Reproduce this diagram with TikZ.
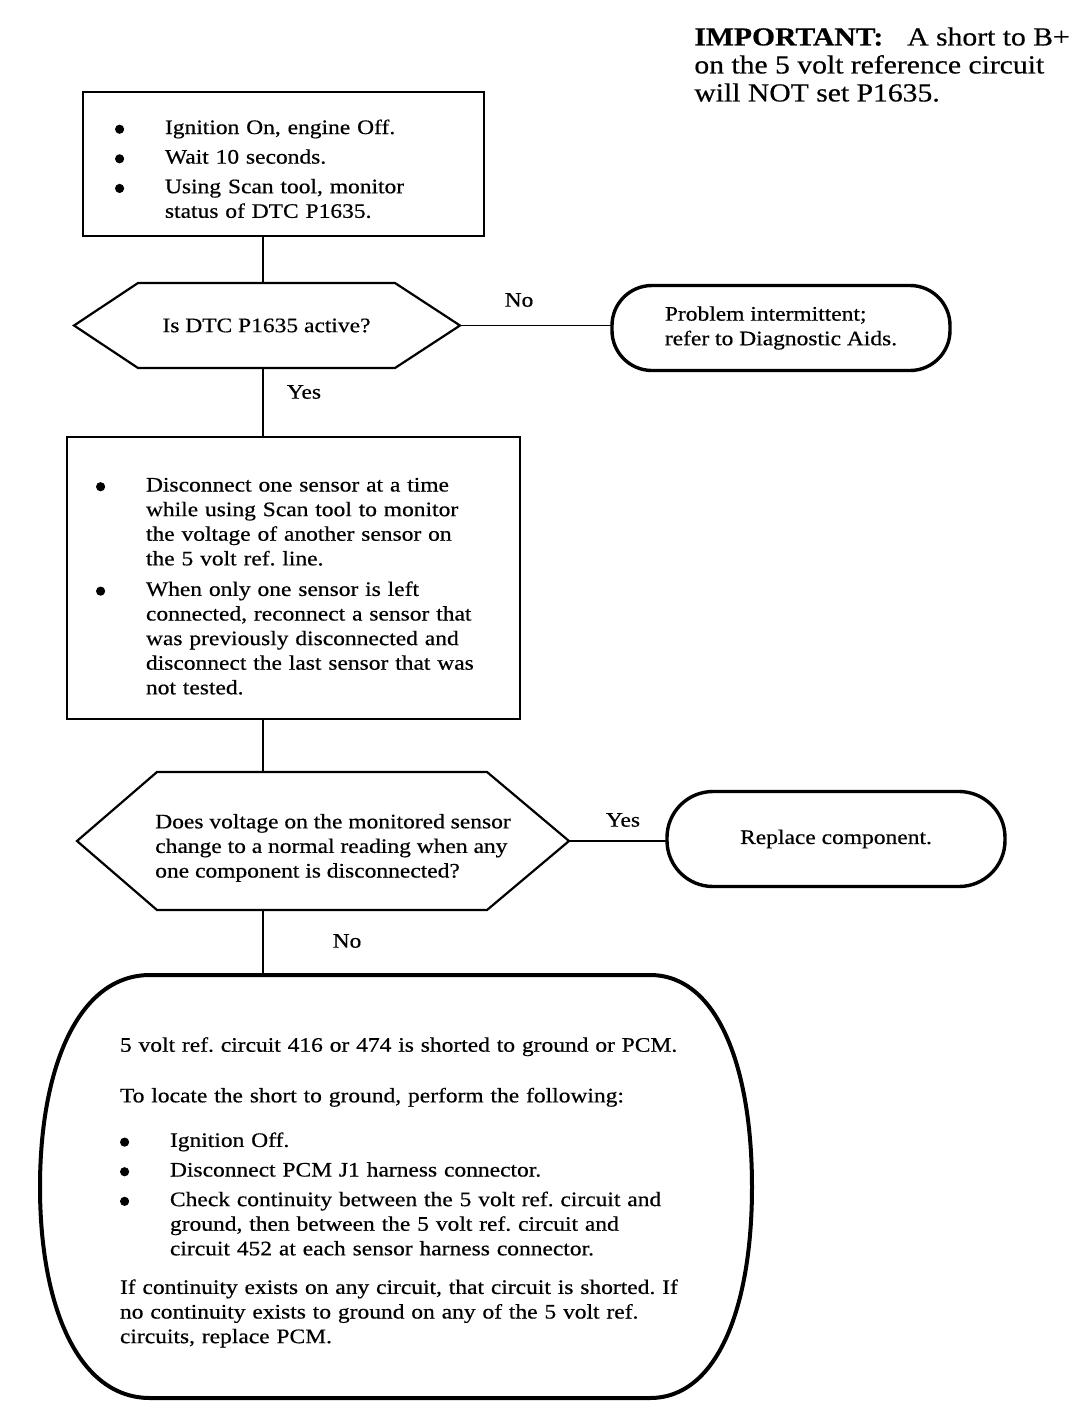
\documentclass[tikz,border=0pt]{standalone}
\usepackage{fontspec}
\setmainfont{Liberation Serif}[FakeStretch=1.14,FakeBold=0.5]
\setlength{\parindent}{0pt}
\frenchspacing
\newcommand{\bul}{\makebox[25pt][l]{\tikz[baseline=-2.4pt]\fill (2.3pt,0pt) circle (2.3pt);}}
\newcommand{\cont}{\hspace*{25pt}}

\begin{document}
\begin{tikzpicture}[x=0.5pt,y=-0.5pt,
    txt/.style={font=\fontsize{10.3}{12.3}\selectfont},
    stepbox/.style={txt,draw,line width=0.9pt,inner xsep=0pt,align=left,outer sep=0pt},
    question/.style={txt,outer sep=0pt,inner sep=0pt},
    hexline/.style={line width=1.1pt,line join=miter},
    endbox/.style={txt,draw,line width=1.7pt,rounded corners=#1,align=left,outer sep=0pt},
    link/.style={line width=0.9pt},
    answer/.style={txt,inner sep=0pt}]
  \path[fill=white,use as bounding box] (0,0) rectangle (1088,1424);
  \coordinate (spine) at (263,0);

  \node[anchor=north west,inner sep=0pt,align=left,
        font=\fontsize{13}{14}\selectfont] (note) at (694,27)
    {\textbf{IMPORTANT:}\hspace{12pt}A short to B+\\
     on the 5 volt reference circuit\\
     will NOT set P1635.};

  \node[stepbox,minimum width=200.5pt,minimum height=72pt,text width=168.5pt] (ign) at (283.5,164)
    {\begin{tabular}{@{}l@{}}
     \bul Ignition On, engine Off.\\[2.5pt]
     \bul Wait 10 seconds.\\[2.5pt]
     \bul Using Scan tool, monitor\\
     \cont status of DTC P1635.\\[-7pt]
     \end{tabular}};

  \node[question,minimum width=128.5pt,minimum height=42.5pt] (active) at (266.5,325.5)
    {Is DTC P1635 active?};
  \draw[hexline] (active.north west) -- (active.north east) -- ([xshift=32.5pt]active.east)
    coordinate (activeR) -- (active.south east) -- (active.south west)
    -- ([xshift=-32pt]active.west) -- cycle;

  \node[endbox=20pt,minimum width=169pt,minimum height=42.5pt] (intermit) at (781,328)
    {Problem intermittent;\\refer to Diagnostic Aids.};

  \node[stepbox,minimum width=226.5pt,minimum height=141pt,text width=197.5pt] (disc) at (293.5,578)
    {\begin{tabular}{@{}l@{}}
     \bul Disconnect one sensor at a time\\
     \cont while using Scan tool to monitor\\
     \cont the voltage of another sensor on\\
     \cont the 5 volt ref. line.\\[3pt]
     \bul When only one sensor is left\\
     \cont connected, reconnect a sensor that\\
     \cont was previously disconnected and\\
     \cont disconnect the last sensor that was\\
     \cont not tested.\\[-10pt]
     \end{tabular}};

  \node[question,minimum width=165pt,minimum height=69pt] (change) at (322,841)
    {\makebox[165pt][c]{\hspace{11pt}\begin{tabular}{@{}l@{}}
     Does voltage on the monitored sensor\\
     change to a normal reading when any\\
     one component is disconnected?\\[-7pt]
     \end{tabular}}};
  \draw[hexline] (change.north west) -- (change.north east) -- ([xshift=41pt]change.east)
    coordinate (changeR) -- (change.south east) -- (change.south west)
    -- ([xshift=-40pt]change.west) -- cycle;

  \node[endbox=23pt,minimum width=169pt,minimum height=47.5pt] (replace) at (836,839)
    {Replace component.};

  \node[txt,inner xsep=0pt,outer sep=0pt,align=left,minimum width=356pt,minimum height=211.5pt,
        text width=276pt] (short) at (396,1186.5)
    {\begin{tabular}{@{}l@{}}
     5 volt ref. circuit 416 or 474 is shorted to ground or PCM.\\[13pt]
     To locate the short to ground, perform the following:\\[10pt]
     \bul Ignition Off.\\[2.5pt]
     \bul Disconnect PCM J1 harness connector.\\[2.5pt]
     \bul Check continuity between the 5 volt ref. circuit and\\
     \cont ground, then between the 5 volt ref. circuit and\\
     \cont circuit 452 at each sensor harness connector.\\[7pt]
     If continuity exists on any circuit, that circuit is shorted. If\\
     no continuity exists to ground on any of the 5 volt ref.\\
     circuits, replace PCM.\\[-6pt]
     \end{tabular}};
  \draw[line width=2pt] (150,975) -- (650,975)
    .. controls (718,975) and (752,1068) .. (752,1187)
    .. controls (752,1306) and (718,1398) .. (650,1398) -- (150,1398)
    .. controls (78,1398) and (40,1306) .. (40,1187)
    .. controls (40,1068) and (78,975) .. (150,975) -- cycle;

  \node[answer] (no1) at (519,300) {No};
  \node[answer] (yes1) at (304,392) {Yes};
  \node[answer] (yes2) at (623,820) {Yes};
  \node[answer] (no2) at (347,941) {No};

  \draw[link] (ign.south -| spine) -- (active.north -| spine);
  \draw[link] (activeR) -- (activeR -| intermit.west);
  \draw[link] (active.south -| spine) -- (disc.north -| spine);
  \draw[link] (disc.south -| spine) -- (change.north -| spine);
  \draw[link] (changeR) -- (changeR -| replace.west);
  \draw[link] (change.south -| spine) -- (short.north -| spine);
\end{tikzpicture}
\end{document}
